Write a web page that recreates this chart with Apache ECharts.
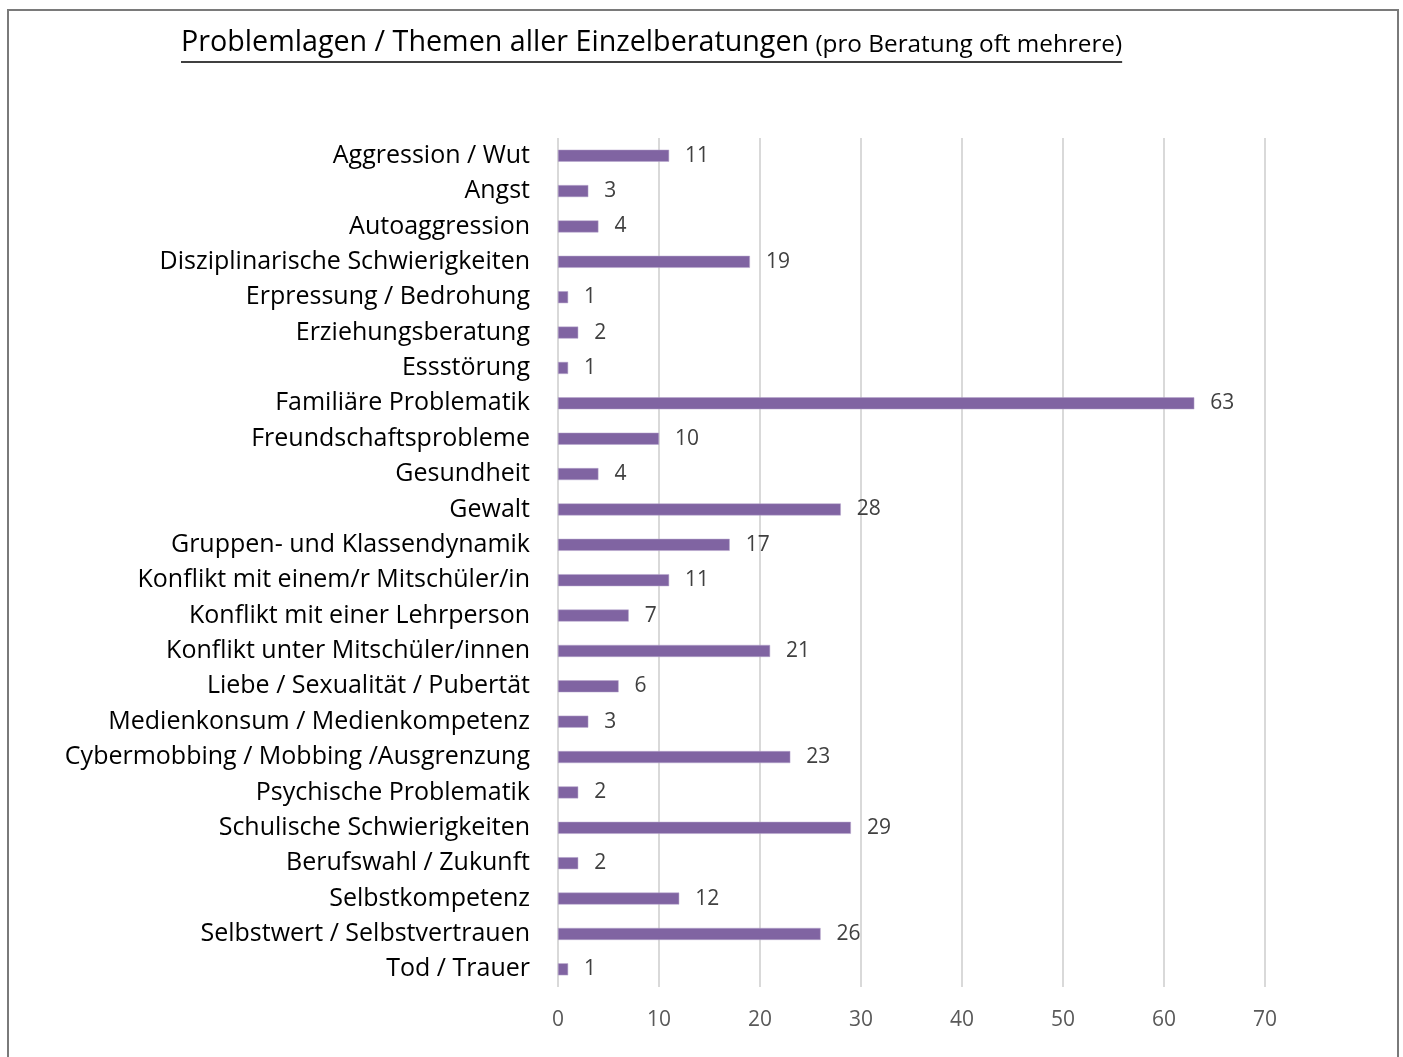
<!DOCTYPE html>
<html>
<head>
<meta charset="utf-8">
<script src="https://cdn.jsdelivr.net/npm/echarts@6/dist/echarts.min.js"></script>
<style>
  html, body { margin: 0; padding: 0; background: #fff; }
  #chart { width: 1403px; height: 1057px; }
</style>
</head>
<body>
<div id="chart"></div>
<script>
// Themen (von oben nach unten)
const categories = [
  'Aggression / Wut',
  'Angst',
  'Autoaggression',
  'Disziplinarische Schwierigkeiten',
  'Erpressung / Bedrohung',
  'Erziehungsberatung',
  'Essstörung',
  'Familiäre Problematik',
  'Freundschaftsprobleme',
  'Gesundheit',
  'Gewalt',
  'Gruppen- und Klassendynamik',
  'Konflikt mit einem/r Mitschüler/in',
  'Konflikt mit einer Lehrperson',
  'Konflikt unter Mitschüler/innen',
  'Liebe / Sexualität / Pubertät',
  'Medienkonsum / Medienkompetenz',
  'Cybermobbing / Mobbing /Ausgrenzung',
  'Psychische Problematik',
  'Schulische Schwierigkeiten',
  'Berufswahl / Zukunft',
  'Selbstkompetenz',
  'Selbstwert / Selbstvertrauen',
  'Tod / Trauer'
]
// Anzahl Beratungen
const values = [11, 3, 4, 19, 1, 2, 1, 63, 10, 4, 28, 17, 11, 7, 21, 6, 3, 23, 2, 29, 2, 12, 26, 1]

const titleMain = 'Problemlagen / Themen aller Einzelberatungen'
const titleSub = ' (pro Beratung oft mehrere)'

const mainFont = '"Open Sans", "Noto Sans", sans-serif'

// Textbreite messen, damit die Unterstreichung passt
function textWidth(txt, font) {
  const c = document.createElement('canvas').getContext('2d')
  c.font = font
  return c.measureText(txt).width
}

const titleX = 181
const w1 = textWidth(titleMain, '28.7px ' + mainFont)
const w2 = textWidth(titleSub, '24.3px ' + mainFont)

const chart = echarts.init(document.getElementById('chart'))

chart.setOption({
  animation: false,
  backgroundColor: '#fff',
  grid: {
    left: 558,
    right: 138,
    top: 138,
    bottom: 70,
    containLabel: false
  },
  xAxis: {
    type: 'value',
    min: 0,
    max: 70,
    interval: 10,
    axisLine: { show: false },
    axisTick: { show: false },
    axisLabel: {
      color: '#595959',
      fontSize: 21,
      fontFamily: mainFont,
      margin: 23
    },
    splitLine: {
      lineStyle: { color: '#d9d9d9', width: 2 }
    }
  },
  yAxis: {
    type: 'category',
    data: categories,
    inverse: true,
    axisLine: { show: false },
    axisTick: { show: false },
    axisLabel: {
      color: '#000',
      fontSize: 25,
      fontFamily: mainFont,
      margin: 28
    }
  },
  series: [
    {
      type: 'bar',
      data: values,
      barWidth: 12,
      itemStyle: {
        color: '#8064a2',
        borderColor: '#b7a6cc',
        borderWidth: 0.5
      },
      label: {
        show: true,
        position: 'right',
        distance: 16,
        color: '#404040',
        fontSize: 21,
        fontFamily: mainFont
      }
    }
  ],
  graphic: [
    {
      type: 'rect',
      shape: { x: 8, y: 10, width: 1390, height: 1060 },
      style: { fill: null, stroke: '#7a7a7a', lineWidth: 2 },
      silent: true
    },
    {
      type: 'text',
      left: titleX,
      top: 28,
      style: {
        text: titleMain,
        font: '28.7px ' + mainFont,
        fill: '#000'
      }
    },
    {
      type: 'text',
      left: titleX + w1,
      top: 33,
      style: {
        text: titleSub,
        font: '24.3px ' + mainFont,
        fill: '#000'
      }
    },
    {
      type: 'line',
      shape: { x1: titleX, y1: 62, x2: titleX + w1 + w2, y2: 62 },
      style: { stroke: '#000', lineWidth: 1.5 }
    }
  ]
})
</script>
</body>
</html>
